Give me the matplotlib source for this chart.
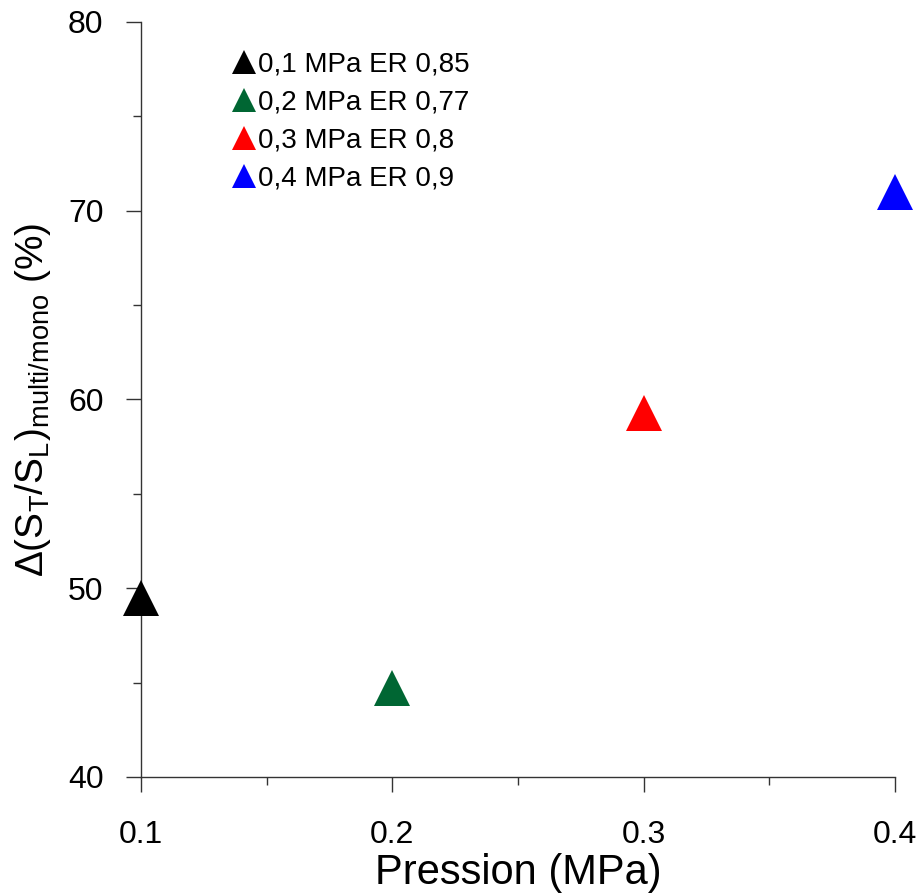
import matplotlib.pyplot as plt
from matplotlib.ticker import MultipleLocator

plt.rcParams['font.family'] = ['Liberation Sans', 'DejaVu Sans']
plt.rcParams['mathtext.default'] = 'regular'

pression = [0.1, 0.2, 0.3, 0.4]
delta = [49.5, 44.7, 59.3, 71.0]
labels = ['0,1 MPa ER 0,85', '0,2 MPa ER 0,77', '0,3 MPa ER 0,8', '0,4 MPa ER 0,9']
colors = ['#000000', '#006633', '#ff0000', '#0000ff']

fig = plt.figure(figsize=(9.19, 8.94), dpi=100)
ax = fig.add_axes([0.1534, 0.1309, 0.974 - 0.1534, 0.9754 - 0.1309])

for x, y, lab, c in zip(pression, delta, labels, colors):
    ax.plot([x], [y], linestyle='none', marker='^', ms=26, color=c,
            markeredgewidth=0, label=lab, clip_on=False, zorder=3)

ax.set_xlim(0.1, 0.4)
ax.set_ylim(40, 80)
ax.xaxis.set_major_locator(MultipleLocator(0.1))
ax.xaxis.set_minor_locator(MultipleLocator(0.05))
ax.yaxis.set_major_locator(MultipleLocator(10))
ax.yaxis.set_minor_locator(MultipleLocator(5))

for s in ['top', 'right']:
    ax.spines[s].set_visible(False)
for s in ['left', 'bottom']:
    ax.spines[s].set_linewidth(1.0)
    ax.spines[s].set_color('#333333')

ax.tick_params(which='major', direction='out', length=11, width=1, color='#333333')
ax.tick_params(which='minor', direction='out', length=6, width=1, color='#333333')
ax.tick_params(axis='y', labelsize=23, pad=16)
ax.tick_params(axis='x', labelsize=23, pad=20)
ax.xaxis.set_major_formatter(plt.FuncFormatter(lambda v, p: f'{v:.1f}'))

ax.set_xlabel('Pression (MPa)', fontsize=30, labelpad=2)
ax.set_ylabel(r'$\Delta$(S$_{T}$/S$_{L}$)$_{multi/mono}$ (%)', fontsize=28, labelpad=11)

leg = ax.legend(loc='upper left', bbox_to_anchor=(0.092, 0.987), frameon=False,
                fontsize=20, handletextpad=0.0, labelspacing=0.44,
                handlelength=1.0, borderaxespad=0.3, markerscale=0.66)

fig.savefig('out.png', dpi=100)
